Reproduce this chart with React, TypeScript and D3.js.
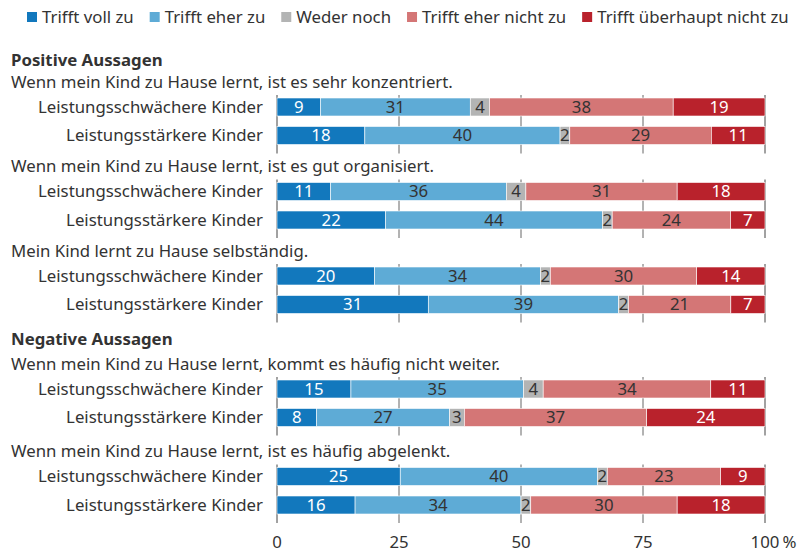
import React, { useEffect, useRef } from "react";
import * as d3 from "d3";

const categories = ["Trifft voll zu", "Trifft eher zu", "Weder noch", "Trifft eher nicht zu", "Trifft überhaupt nicht zu"];
const colors = ["#1278bd", "#5eabd6", "#b3b4b4", "#d47676", "#b9222c"];
const labelColors = ["#ffffff", "#333333", "#333333", "#333333", "#ffffff"];

const sections = ["Positive Aussagen", "Negative Aussagen"];
const questions = [
  "Wenn mein Kind zu Hause lernt, ist es sehr konzentriert.",
  "Wenn mein Kind zu Hause lernt, ist es gut organisiert.",
  "Mein Kind lernt zu Hause selbständig.",
  "Wenn mein Kind zu Hause lernt, kommt es häufig nicht weiter.",
  "Wenn mein Kind zu Hause lernt, ist es häufig abgelenkt.",
];
const questionSection = [0, 0, 0, 1, 1];
const groups = ["Leistungsschwächere Kinder", "Leistungsstärkere Kinder"];

// per question: [schwächere, stärkere], each in category order
const weaker = [
  [9, 31, 4, 38, 19],
  [11, 36, 4, 31, 18],
  [20, 34, 2, 30, 14],
  [15, 35, 4, 34, 11],
  [25, 40, 2, 23, 9],
];
const stronger = [
  [18, 40, 2, 29, 11],
  [22, 44, 2, 24, 7],
  [31, 39, 2, 21, 7],
  [8, 27, 3, 37, 24],
  [16, 34, 2, 30, 18],
];
const ticks = [0, 25, 50, 75, 100];

const FONT = "'Noto Sans', sans-serif";
const FS = 16.8;
const TEXT = "#333333";

export default function App() {
  const svgRef = useRef<SVGSVGElement>(null);

  useEffect(() => {
    const svg = d3.select(svgRef.current);
    svg.selectAll("*").remove();

    const width = 809;
    const height = 554;
    svg.attr("width", width).attr("height", height);

    const x = d3.scaleLinear().domain([0, 100]).range([277, 765]);
    const barH = 18;
    const rowStep = 28.5;
    // spacing per section: header -> question, row -> next question
    const headGap = [21.5, 25];
    const qGap = [31, 34];

    const txt = (sel: any) =>
      sel.style("font-family", FONT).style("font-size", FS + "px").style("fill", TEXT);

    // legend
    let lx = 27;
    const legend = svg.append("g");
    categories.forEach((c, i) => {
      legend.append("rect").attr("x", lx).attr("y", 12).attr("width", 10).attr("height", 10).attr("fill", colors[i]);
      const t = legend.append("text")
        .attr("x", lx + 15).attr("y", 17).attr("dy", "0.35em")
        .call(txt)
        .text(c);
      const w = (t.node() as SVGTextElement).getComputedTextLength();
      lx += 15 + w + 16;
    });

    // vertical layout
    let y = 60.5;
    let lastSection = -1;
    questions.forEach((q, qi) => {
      const sec = questionSection[qi];
      if (sec !== lastSection) {
        if (lastSection >= 0) y += 34.5;
        svg.append("text").attr("x", 11).attr("y", y).attr("dy", "0.35em")
          .call(txt).style("font-weight", "bold")
          .text(sections[sec]);
        y += headGap[sec];
        lastSection = sec;
      } else {
        y += qGap[sec];
      }
      svg.append("text").attr("x", 11).attr("y", y).attr("dy", "0.35em")
        .call(txt)
        .text(q);
      y += 25;

      const y1 = y;
      const y2 = y + rowStep;

      // grid segments for this question
      const grid = svg.append("g");
      ticks.forEach((t) => {
        grid.append("line")
          .attr("x1", x(t)).attr("x2", x(t))
          .attr("y1", y1 - 12).attr("y2", y2 + 18)
          .attr("stroke", t === 0 || t === 100 ? "#444" : "#666")
          .attr("stroke-width", 1);
      });

      [weaker[qi], stronger[qi]].forEach((vals, gi) => {
        const cy = gi === 0 ? y1 : y2;
        svg.append("text").attr("x", 263).attr("y", cy).attr("dy", "0.35em")
          .attr("text-anchor", "end")
          .call(txt)
          .text(groups[gi]);
        const total = d3.sum(vals);
        let acc = 0;
        vals.forEach((v, ci) => {
          const a = (acc / total) * 100;
          acc += v;
          const b = (acc / total) * 100;
          svg.append("rect")
            .attr("x", x(a)).attr("width", x(b) - x(a))
            .attr("y", cy - barH / 2).attr("height", barH)
            .attr("fill", colors[ci])
            .attr("stroke", "#ffffff").attr("stroke-width", 0.6);
          svg.append("text")
            .attr("x", (x(a) + x(b)) / 2).attr("y", cy).attr("dy", "0.35em")
            .attr("text-anchor", "middle")
            .call(txt).style("fill", labelColors[ci])
            .text(v);
        });
      });
      y = y2;
    });

    // axis labels
    ticks.forEach((t) => {
      const tx = svg.append("text").attr("x", x(t)).attr("y", 542).attr("dy", "0.35em")
        .attr("text-anchor", "middle")
        .call(txt)
        .text(t);
      if (t === 100) {
        const w = (tx.node() as SVGTextElement).getComputedTextLength();
        svg.append("text").attr("x", x(t) + w / 2 + 3).attr("y", 542).attr("dy", "0.35em")
          .call(txt)
          .text("%");
      }
    });
  }, []);

  return (
    <svg ref={svgRef} style={{ position: "absolute", left: 0, top: 0, background: "#fff" }}></svg>
  );
}
